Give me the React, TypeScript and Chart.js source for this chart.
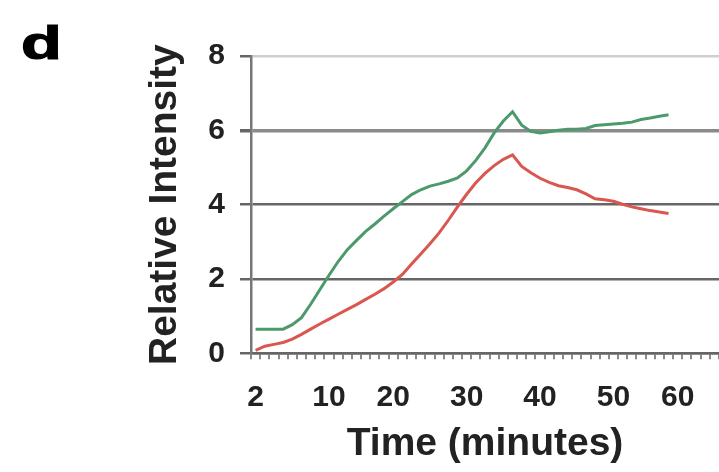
import React, { useEffect, useRef } from "react";
import { Chart, registerables } from "chart.js";

Chart.register(...registerables);

// Category slots along the x axis (one per sample), with labelled slots
const categoryCount = 51;
const tickIndex = [0, 8, 15, 23, 31, 39, 46];
const tickText = ["2", "10", "20", "30", "40", "50", "60"];

// Relative intensity series (one value per sample)
const greenSeries = [
  0.65, 0.65, 0.65, 0.65, 0.77, 0.96, 1.32, 1.71, 2.1, 2.47,
  2.79, 3.04, 3.28, 3.48, 3.69, 3.89, 4.08, 4.27, 4.4, 4.5,
  4.56, 4.63, 4.72, 4.91, 5.19, 5.53, 5.93, 6.25, 6.5, 6.14,
  5.97, 5.93, 5.96, 6.0, 6.03, 6.03, 6.05, 6.13, 6.15, 6.17,
  6.19, 6.22, 6.29, 6.33, 6.38, 6.42,
];
const redSeries = [
  0.08, 0.19, 0.24, 0.29, 0.38, 0.51, 0.65, 0.79, 0.92, 1.05,
  1.18, 1.31, 1.45, 1.59, 1.74, 1.92, 2.12, 2.4, 2.67, 2.95,
  3.24, 3.58, 3.94, 4.28, 4.59, 4.84, 5.05, 5.22, 5.34, 5.03,
  4.86, 4.71, 4.6, 4.51, 4.46, 4.4, 4.29, 4.16, 4.13, 4.09,
  4.01, 3.94, 3.89, 3.84, 3.8, 3.76,
];

const yMin = 0;
const yMax = 8;
const yStep = 2;

const panelLetter = "d";
const xTitle = "Time (minutes)";
const yTitle = "Relative Intensity";

const FONT = '"Liberation Sans", Arial, Helvetica, sans-serif';

export default function App() {
  const canvasRef = useRef<HTMLCanvasElement | null>(null);

  useEffect(() => {
    const canvas = canvasRef.current;
    if (!canvas) return;

    const labels = Array.from({ length: categoryCount }, (_, i) => {
      const k = tickIndex.indexOf(i);
      return k >= 0 ? tickText[k] : "";
    });

    const panelPlugin = {
      id: "panelLetter",
      afterDraw(chart: any) {
        const ctx = chart.ctx;
        ctx.save();
        ctx.font = `bold 46px ${FONT}`;
        ctx.fillStyle = "#000";
        ctx.strokeStyle = "#000";
        ctx.lineWidth = 1.2;
        ctx.textBaseline = "alphabetic";
        ctx.textAlign = "left";
        ctx.translate(21, 59);
        ctx.scale(1.45, 1);
        ctx.fillText(panelLetter, 0, 0);
        ctx.strokeText(panelLetter, 0, 0);
        ctx.restore();
      },
    };

    const chart = new Chart(canvas, {
      type: "line",
      data: {
        labels,
        datasets: [
          {
            data: greenSeries,
            borderColor: "#4c9a6c",
            borderWidth: 3,
            pointRadius: 0,
            tension: 0,
            fill: false,
          },
          {
            data: redSeries,
            borderColor: "#d9574f",
            borderWidth: 3,
            pointRadius: 0,
            tension: 0,
            fill: false,
          },
        ],
      },
      options: {
        animation: false,
        responsive: false,
        events: [],
        layout: { padding: { top: 56, left: 0, right: 0, bottom: 0 } },
        plugins: {
          legend: { display: false },
          tooltip: { enabled: false },
          title: { display: false },
        },
        scales: {
          x: {
            type: "category",
            offset: true,
            afterFit: (scale: any) => {
              scale.height = 472 - 353.3;
              scale.paddingLeft = 0;
              scale.paddingRight = 0;
            },
            grid: {
              display: true,
              offset: true,
              drawOnChartArea: false,
              drawTicks: true,
              tickLength: 6,
              color: "#8a8a8a",
              lineWidth: 2,
            },
            border: { display: true, color: "#666", width: 2.5 },
            ticks: {
              autoSkip: false,
              maxRotation: 0,
              minRotation: 0,
              padding: 20,
              color: "#222",
              font: { family: FONT, size: 30, weight: "bold" },
            },
            title: {
              display: true,
              text: xTitle,
              color: "#222",
              font: { family: FONT, size: 39, weight: "bold" },
              padding: { top: 0, bottom: 4 },
            },
          },
          y: {
            min: yMin,
            max: yMax,
            afterFit: (scale: any) => {
              scale.width = 251;
            },
            grid: {
              drawTicks: true,
              tickLength: 11,
              tickColor: "#666",
              color: (c: any) => {
                const v = c.tick ? c.tick.value : 0;
                if (v === 8) return "#cfcfcf";
                if (v === 6) return "#8a8a8a";
                return "#666";
              },
              lineWidth: (c: any) => {
                const v = c.tick ? c.tick.value : 0;
                if (v === 6) return 3.5;
                return 2.5;
              },
            },
            border: { display: true, color: "#777", width: 2.5 },
            ticks: {
              stepSize: yStep,
              padding: 15,
              color: "#222",
              font: { family: FONT, size: 30, weight: "bold" },
            },
            title: {
              display: true,
              text: yTitle,
              color: "#222",
              font: { family: FONT, size: 39, weight: "bold" },
              padding: { top: 142, bottom: 0 },
            },
          },
        },
      },
      plugins: [panelPlugin],
    });

    return () => {
      chart.destroy();
    };
  }, []);

  return (
    <div
      style={{
        position: "fixed",
        left: 0,
        top: 0,
        width: 719,
        height: 472,
        background: "#fff",
      }}
    >
      <canvas
        ref={canvasRef}
        width={719}
        height={472}
        style={{ display: "block", width: 719, height: 472 }}
      />
    </div>
  );
}
